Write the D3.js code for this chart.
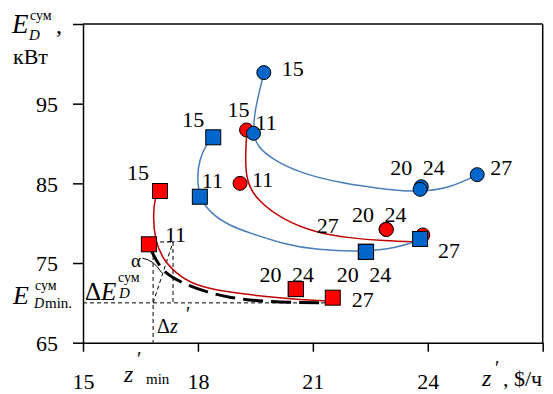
<!DOCTYPE html>
<html><head><meta charset="utf-8">
<script src="https://cdn.jsdelivr.net/npm/d3@7"></script>
<style>
body{margin:0;background:#fff}
svg{display:block;background:#fff}
</style>
</head><body>
<svg id="c" width="553" height="394"></svg>
<script>
// ---------- data ----------
const xTicks = [15, 18, 21, 24, 27];
const xTickLabels = ["15", "18", "21", "24", ""];
const yTicks = [65, 75, 85, 95, 105];
const yTickLabels = ["65", "75", "85", "95", ""];

const params = [15, 11, 20, 24, 27];
const pointLabels = ["15", "11", "20 24", "", "27"];

// series values (z', E)
const blueCircleZ = [19.72, 19.45, 23.83, 23.80, 25.29];
const blueCircleE = [98.9, 91.28, 84.58, 84.25, 86.09];
const redCircleZ = [19.27, 19.10, 22.91, 22.92, 23.87];
const redCircleE = [91.7, 85.0, 79.25, 79.2, 78.52];
const blueSquareZ = [18.40, 18.05, 22.38, 22.39, 23.80];
const blueSquareE = [90.78, 83.32, 76.42, 76.40, 78.02];
const redSquareZ = [17.01, 16.72, 20.55, 20.56, 21.52];
const redSquareE = [84.04, 77.35, 71.74, 71.72, 70.65];

// trend curves (z', E)
const blueCircleTrendZ = [19.725, 19.60, 19.48, 19.437, 19.55, 19.95, 20.664, 21.708, 23.013, 23.797, 24.580, 25.285];
const blueCircleTrendE = [98.85, 96.5, 93.9, 91.32, 89.6, 88.0, 86.30, 85.04, 84.17, 83.91, 84.42, 86.05];
const redCircleTrendZ = [19.281, 19.229, 19.281, 19.542, 20.221, 21.108, 21.970, 22.831, 23.797];
const redCircleTrendE = [91.70, 87.93, 85.04, 82.91, 80.40, 78.77, 78.14, 77.80, 77.64];
const blueSquareTrendZ = [18.393, 18.237, 18.028, 17.976, 18.054, 18.315, 18.837, 19.359, 20.221, 21.108, 22.309, 23.196, 23.797];
const blueSquareTrendE = [90.82, 90.06, 87.93, 85.42, 83.16, 81.28, 79.65, 78.77, 77.39, 76.63, 76.38, 76.89, 77.89];
const redSquareTrendZ = [17.010, 16.879, 16.827, 16.879, 17.088, 17.532, 18.054, 18.915, 20.142, 21.265, 21.708];
const redSquareTrendE = [84.04, 83.29, 80.78, 77.89, 75.38, 73.25, 71.99, 71.24, 70.61, 70.23, 70.17];
const envelopeZ = [16.749, 16.932, 17.140, 17.532, 18.132, 18.837, 19.698, 20.586, 21.447];
const envelopeE = [76.89, 75.13, 73.75, 72.62, 71.49, 70.61, 70.17, 70.05, 69.98];

// annotation values
const zMin = 16.83, zStep = 17.35, eMin = 70, eTop = 77.64, eLineEnd = 21.7;

// ---------- font detection ----------
function pickFont() {
  const cands = ["Liberation Serif", "Tinos", "Times New Roman", "Times", "DejaVu Serif", "Noto Serif", "FreeSerif", "Nimbus Roman"];
  const cv = document.createElement("canvas").getContext("2d");
  const probe = "WiwMl1Bт 0123 сум";
  const base = ["monospace", "sans-serif"];
  const bw = base.map(b => { cv.font = "40px " + b; return cv.measureText(probe).width; });
  for (const f of cands) {
    let ok = false;
    base.forEach((b, i) => { cv.font = `40px "${f}", ${b}`; if (Math.abs(cv.measureText(probe).width - bw[i]) > 0.5) ok = true; });
    if (ok) return `"${f}", serif`;
  }
  return "serif";
}
const FONT = pickFont();

// ---------- layout ----------
const NUM = 22; // numeric label size
const x = d3.scaleLinear().domain([15, 27]).range([83, 542.7]);
const y = d3.scaleLinear().domain([65, 105]).range([342.7, 24]);
const svg = d3.select("#c");

const BLUE = "#0066CC", RED = "#FF0000";
const BLUE_LINE = "#4A7EBB", RED_LINE = "#C00000";

function txt(px, py, s, size, italic, anchor) {
  return svg.append("text").attr("x", px).attr("y", py).text(s)
    .attr("font-family", FONT)
    .attr("font-size", size)
    .attr("font-style", italic ? "italic" : "normal")
    .attr("fill", "#000")
    .attr("text-anchor", anchor || "start");
}

// frame
svg.append("line").attr("x1", x(15)).attr("x2", x(27)).attr("y1", y(105)).attr("y2", y(105))
  .attr("stroke", "#000").attr("stroke-width", 1.5);
svg.append("line").attr("x1", x(27)).attr("x2", x(27)).attr("y1", y(105)).attr("y2", y(65))
  .attr("stroke", "#000").attr("stroke-width", 1.5);

// axes
const gx = svg.append("g").attr("transform", `translate(0,${y(65)})`)
  .call(d3.axisBottom(x).tickValues(xTicks).tickFormat((d, i) => xTickLabels[i]).tickSize(9).tickSizeOuter(0));
gx.attr("font-family", FONT).attr("font-size", NUM);
gx.select(".domain").attr("stroke", "#000").attr("stroke-width", 1.5);
gx.selectAll(".tick line").attr("stroke", "#000").attr("stroke-width", 1.5);
gx.selectAll(".tick text").attr("y", 46).attr("dy", null).attr("fill", "#000");

const gy = svg.append("g").attr("transform", `translate(${x(15)},0)`)
  .call(d3.axisLeft(y).tickValues(yTicks).tickFormat((d, i) => yTickLabels[i]).tickSize(10).tickSizeOuter(0));
gy.attr("font-family", FONT).attr("font-size", NUM);
gy.select(".domain").attr("stroke", "#000").attr("stroke-width", 1.5);
gy.selectAll(".tick line").attr("stroke", "#000").attr("stroke-width", 1.5);
gy.selectAll(".tick text").attr("x", -25).attr("dy", "0.35em").attr("fill", "#000");

// dashed annotation lines
const thin = (x1, y1, x2, y2) => svg.append("line")
  .attr("x1", x(x1)).attr("y1", y(y1)).attr("x2", x(x2)).attr("y2", y(y2))
  .attr("stroke", "#000").attr("stroke-width", 1).attr("stroke-dasharray", "4,3");
thin(15, eMin, eLineEnd, eMin);
thin(zMin, eTop, zMin, 65);
thin(zStep, eTop, zStep, eMin);
thin(zMin, eTop, zStep, eTop);
thin(zMin, eMin, zStep, eTop);

// trend curves
const line = d3.line().x(d => x(d[0])).y(d => y(d[1])).curve(d3.curveBasis);
const zip = (a, b) => a.map((v, i) => [v, b[i]]);
function curve(zs, es, color, w, dash) {
  const p = svg.append("path").datum(zip(zs, es)).attr("d", line)
    .attr("fill", "none").attr("stroke", color).attr("stroke-width", w);
  if (dash) p.attr("stroke-dasharray", dash);
}
curve(blueCircleTrendZ, blueCircleTrendE, BLUE_LINE, 1.5);
curve(redCircleTrendZ, redCircleTrendE, RED_LINE, 1.5);
curve(blueSquareTrendZ, blueSquareTrendE, BLUE_LINE, 1.5);
curve(redSquareTrendZ, redSquareTrendE, RED_LINE, 1.5);
curve(envelopeZ, envelopeE, "#000", 3, "20,8");

// alpha arc
svg.append("path")
  .attr("d", `M${x(16.55)},${y(75.6)} Q${x(16.85)},${y(75.4)} ${x(17.05)},${y(73.8)}`)
  .attr("fill", "none").attr("stroke", "#000").attr("stroke-width", 1);

// markers
function circles(zs, es, color) {
  svg.append("g").selectAll("circle").data(zip(zs, es)).join("circle")
    .attr("cx", d => x(d[0])).attr("cy", d => y(d[1])).attr("r", 7)
    .attr("fill", color).attr("stroke", "#000").attr("stroke-width", 1);
}
function squares(zs, es, color) {
  svg.append("g").selectAll("rect").data(zip(zs, es)).join("rect")
    .attr("x", d => x(d[0]) - 7.5).attr("y", d => y(d[1]) - 7.5).attr("width", 15).attr("height", 15)
    .attr("fill", color).attr("stroke", "#000").attr("stroke-width", 1);
}
circles(redCircleZ, redCircleE, RED);
circles(blueCircleZ, blueCircleE, BLUE);
squares(redSquareZ, redSquareE, RED);
squares(blueSquareZ, blueSquareE, BLUE);

// point labels: offsets (px) from the marker
const labelOffsets = {
  bc: [[18, 3], [2, -3], [-31, -12], null, [13, 0]],
  rc: [[-19, -13], [12, 4], [-34, -7], null, [-106, -2]],
  bs: [[-31, -10], [2, -9], [-29, 30], null, [18, 19]],
  rs: [[-33, -11], [16, -2], [-36, -7], null, [19, 9]]
};
function labels(zs, es, key) {
  pointLabels.forEach((s, i) => {
    const o = labelOffsets[key][i];
    if (!s || !o) return;
    txt(x(zs[i]) + o[0], y(es[i]) + o[1], s, NUM, false).attr("word-spacing", 5);
  });
}
labels(blueCircleZ, blueCircleE, "bc");
labels(redCircleZ, redCircleE, "rc");
labels(blueSquareZ, blueSquareE, "bs");
labels(redSquareZ, redSquareE, "rs");

// y axis title
txt(12, 33, "E", 27, true);
txt(30, 20, "сум", 14, false);
txt(29, 40, "D", 15, true);
txt(56, 33, ",", 24, false);
txt(13, 64, "кВт", 22, false);

// E_D min label
txt(13, 304, "E", 26, true);
txt(35, 290, "сум", 14, false);
txt(34, 308, "D", 14, true);
txt(45, 308, "min.", 15, false);

// ΔE label
const dE = svg.append("text").attr("x", 85).attr("y", 300)
  .attr("font-family", FONT).attr("font-size", 25).attr("fill", "#000");
dE.append("tspan").text("Δ");
dE.append("tspan").attr("font-style", "italic").text("E");
txt(118, 282, "сум", 14, false);
txt(119, 298, "D", 15, true);

// Δz' label
const dz = svg.append("text").attr("x", 157).attr("y", 333)
  .attr("font-family", FONT).attr("font-size", 20).attr("fill", "#000");
dz.append("tspan").text("Δ");
dz.append("tspan").attr("font-style", "italic").text("z");
txt(186, 321, "′", 20, false);

// alpha
txt(131, 267, "α", 19, false);

// z'min label
txt(124, 382, "z", 24, true);
txt(137, 366, "′", 20, false);
txt(146, 384, "min", 15, false);

// x axis title
txt(482, 386, "z", 24, true);
txt(495, 375, "′", 20, false);
txt(503, 386, ", $/ч", 22, false);
</script>
</body></html>
